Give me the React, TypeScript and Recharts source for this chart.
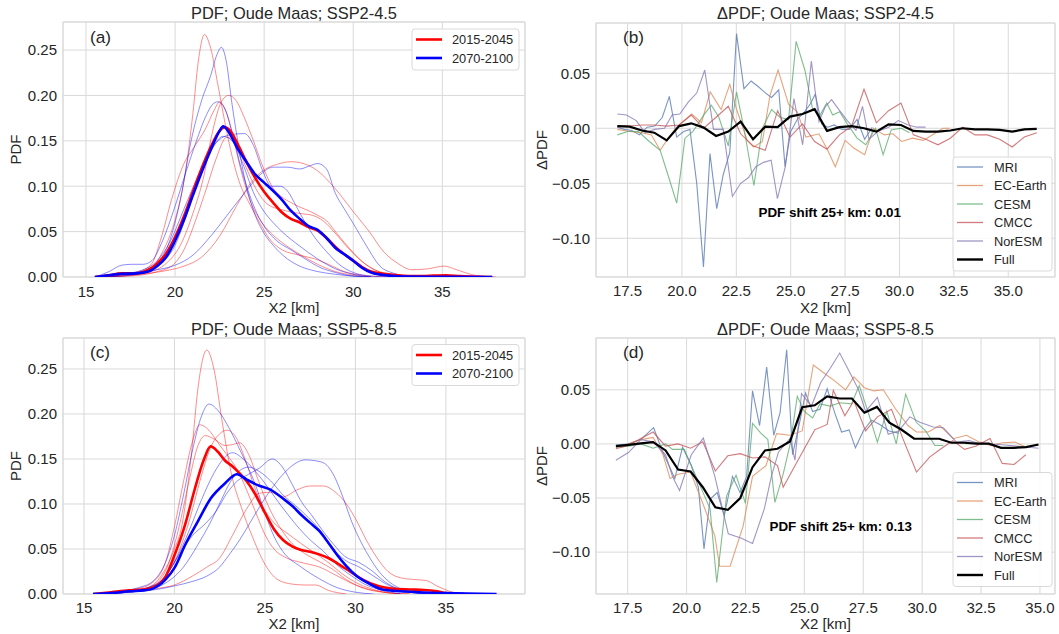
import React from 'react';
import { CartesianGrid, Line, LineChart, ReferenceArea, XAxis, YAxis } from 'recharts';

type Pt = [number, number];

const FONT = '"Liberation Sans", Arial, Helvetica, sans-serif';
const INK = '#262626';
const GRID = '#d9d9d9';

const PERIODS = ['2015-2045', '2070-2100'];
const MODELS = ['MRI', 'EC-Earth', 'CESM', 'CMCC', 'NorESM'];
const MODEL_COLORS = ['#4c72b0', '#dd8452', '#55a868', '#c44e52', '#8172b3'];

const PDF_X_TICKS = [15, 20, 25, 30, 35];
const PDF_Y_TICKS = [0, 0.05, 0.1, 0.15, 0.2, 0.25];
const DELTA_X_TICKS = [17.5, 20, 22.5, 25, 27.5, 30, 32.5, 35];
const DELTA_Y_TICKS = [-0.1, -0.05, 0, 0.05];

// ---- SSP2-4.5 PDFs (km, density) ----
const RED_245: Pt[][] = [
  [[16, 0], [17, 0.002], [18, 0.004], [18.6, 0.008], [19.25, 0.026], [19.7, 0.045], [20, 0.063], [20.6, 0.118], [21, 0.18], [21.3, 0.237], [21.65, 0.267], [22, 0.252], [22.4, 0.212], [22.8, 0.17], [23.2, 0.133], [23.6, 0.105], [24.2, 0.08], [24.8, 0.058], [25.3, 0.042], [26, 0.03], [27, 0.024], [28, 0.019], [28.6, 0.014], [29.5, 0.006], [30.5, 0.002], [32, 0]],
  [[16, 0], [17.5, 0.002], [18.5, 0.005], [19.5, 0.015], [20.3, 0.035], [21, 0.07], [21.6, 0.11], [22.1, 0.16], [22.6, 0.193], [23, 0.2], [23.4, 0.195], [23.9, 0.175], [24.4, 0.15], [25, 0.118], [25.5, 0.098], [26, 0.088], [26.5, 0.082], [27, 0.077], [27.5, 0.073], [28, 0.068], [28.5, 0.062], [29, 0.05], [29.5, 0.038], [30, 0.027], [30.5, 0.017], [31, 0.01], [32, 0.003], [33, 0.0005], [34, 0]],
  [[15.8, 0], [17, 0.003], [18, 0.006], [18.7, 0.015], [19.25, 0.045], [19.8, 0.085], [20.5, 0.125], [21.1, 0.144], [21.7, 0.163], [22.2, 0.184], [22.5, 0.193], [22.9, 0.18], [23.3, 0.15], [23.8, 0.11], [24.3, 0.08], [24.8, 0.062], [25.3, 0.05], [26, 0.038], [27, 0.025], [28, 0.014], [29, 0.006], [30, 0.002], [31, 0]],
  [[16, 0], [17.5, 0.002], [18.5, 0.004], [19.5, 0.007], [20.5, 0.012], [21.5, 0.022], [22.5, 0.045], [23.5, 0.08], [24.3, 0.105], [25, 0.118], [25.7, 0.124], [26.5, 0.127], [27.2, 0.125], [28, 0.117], [29, 0.097], [30, 0.072], [30.9, 0.05], [31.7, 0.028], [32.5, 0.015], [33.3, 0.008], [34.2, 0.009], [35.1, 0.012], [35.8, 0.008], [36.8, 0.002], [38, 0]],
  [[16, 0], [18, 0.002], [19, 0.006], [19.8, 0.012], [20.5, 0.03], [21.2, 0.065], [21.8, 0.1], [22.3, 0.13], [22.9, 0.154], [23.4, 0.148], [24, 0.12], [24.6, 0.095], [25.2, 0.08], [26, 0.074], [27, 0.07], [27.7, 0.068], [28.3, 0.062], [29, 0.048], [29.8, 0.03], [30.5, 0.017], [31.3, 0.007], [32.3, 0.002], [33.5, 0]],
];
const BLUE_245: Pt[][] = [
  [[16, 0], [17, 0.002], [18, 0.005], [19, 0.015], [19.7, 0.04], [20.3, 0.085], [20.9, 0.15], [21.5, 0.195], [22, 0.222], [22.35, 0.245], [22.6, 0.253], [22.85, 0.24], [23.2, 0.19], [23.6, 0.14], [24, 0.1], [24.5, 0.068], [25, 0.048], [25.5, 0.035], [26.3, 0.02], [27, 0.012], [28, 0.006], [29, 0.003], [30, 0.001], [31, 0]],
  [[15.5, 0], [16.3, 0.006], [17, 0.013], [17.6, 0.014], [18.2, 0.014], [18.7, 0.018], [19.3, 0.04], [20, 0.078], [20.6, 0.115], [21.2, 0.15], [21.7, 0.176], [22.1, 0.19], [22.4, 0.193], [22.8, 0.185], [23.2, 0.16], [23.6, 0.128], [24.1, 0.095], [24.6, 0.07], [25.1, 0.053], [25.7, 0.04], [26.5, 0.03], [27.3, 0.02], [28.2, 0.01], [29, 0.005], [30, 0.001], [31, 0]],
  [[16, 0], [17, 0.003], [18.2, 0.008], [19, 0.018], [19.7, 0.038], [20.5, 0.075], [21.3, 0.112], [22, 0.14], [22.6, 0.153], [23.2, 0.157], [23.9, 0.158], [24.4, 0.145], [24.9, 0.118], [25.4, 0.1], [25.9, 0.1], [26.3, 0.095], [26.8, 0.078], [27.3, 0.06], [27.9, 0.042], [28.5, 0.028], [29.2, 0.014], [30, 0.005], [31, 0.001], [32, 0]],
  [[15.8, 0], [17, 0.003], [18, 0.005], [19, 0.008], [20, 0.013], [21, 0.024], [22, 0.045], [23, 0.07], [24, 0.095], [24.8, 0.113], [25.5, 0.121], [26.3, 0.121], [27, 0.119], [27.5, 0.122], [28, 0.125], [28.5, 0.119], [29, 0.092], [29.5, 0.075], [30, 0.059], [30.75, 0.034], [31.5, 0.012], [32.3, 0.004], [33.5, 0]],
  [[16, 0], [17.5, 0.002], [18.7, 0.008], [19.5, 0.02], [20, 0.035], [20.5, 0.06], [21, 0.09], [21.5, 0.115], [22, 0.138], [22.7, 0.155], [23.2, 0.15], [23.8, 0.125], [24.4, 0.093], [25, 0.072], [25.5, 0.06], [26, 0.05], [27, 0.034], [28, 0.02], [29, 0.009], [30, 0.003], [31, 0]],
];
const RED_245_MEAN: Pt[] = [[15.5, 0], [16.3, 0.002], [17, 0.004], [17.8, 0.004], [18.5, 0.008], [19, 0.015], [19.5, 0.026], [20, 0.044], [20.5, 0.067], [21, 0.094], [21.5, 0.12], [22, 0.143], [22.5, 0.161], [22.8, 0.165], [23.1, 0.161], [23.5, 0.147], [24, 0.127], [24.5, 0.109], [25, 0.094], [25.5, 0.082], [26, 0.071], [26.5, 0.064], [27, 0.06], [27.5, 0.055], [28, 0.051], [28.5, 0.043], [29, 0.033], [29.5, 0.025], [30, 0.018], [30.5, 0.011], [31, 0.006], [31.5, 0.004], [32.5, 0.002], [33.5, 0.001], [34.5, 0.0015], [35.2, 0.002], [36, 0.001], [37, 0.0002], [37.8, 0]];
const BLUE_245_MEAN: Pt[] = [[15.5, 0], [16.3, 0.002], [17, 0.0035], [17.8, 0.004], [18.5, 0.006], [19, 0.012], [19.5, 0.022], [20, 0.04], [20.5, 0.063], [21, 0.09], [21.5, 0.116], [22, 0.14], [22.5, 0.161], [22.7, 0.166], [23, 0.16], [23.5, 0.142], [24, 0.127], [24.5, 0.113], [25, 0.104], [25.5, 0.095], [26, 0.085], [26.5, 0.073], [27, 0.064], [27.5, 0.056], [28, 0.052], [28.5, 0.043], [29, 0.032], [29.5, 0.025], [30, 0.018], [30.5, 0.01], [31, 0.005], [32, 0.0015], [33, 0.0005], [35, 0.0003], [37.8, 0]];

// ---- SSP5-8.5 PDFs ----
const RED_585: Pt[][] = [
  [[16, 0], [17, 0.002], [18, 0.004], [18.8, 0.01], [19.5, 0.028], [20, 0.05], [20.4, 0.075], [20.95, 0.158], [21.3, 0.229], [21.78, 0.271], [22.2, 0.248], [22.6, 0.196], [23.15, 0.133], [23.7, 0.096], [24.3, 0.064], [25, 0.033], [25.7, 0.016], [26.5, 0.011], [27.2, 0.01], [27.8, 0.01], [28.5, 0.004], [29.5, 0]],
  [[16, 0], [17, 0.003], [18, 0.006], [18.8, 0.013], [19.5, 0.035], [20, 0.075], [20.5, 0.125], [21, 0.17], [21.4, 0.188], [21.9, 0.182], [22.4, 0.168], [23, 0.152], [23.5, 0.137], [24, 0.115], [24.5, 0.09], [25, 0.066], [25.5, 0.05], [26.2, 0.04], [27, 0.035], [28, 0.03], [29, 0.02], [30, 0.01], [31, 0.004], [32, 0.001], [33, 0]],
  [[16, 0], [17.2, 0.003], [18.3, 0.006], [19, 0.012], [19.6, 0.03], [20.2, 0.07], [20.8, 0.125], [21.3, 0.165], [21.7, 0.176], [22.2, 0.172], [22.8, 0.165], [23.2, 0.166], [23.6, 0.168], [24.1, 0.155], [24.6, 0.128], [25.2, 0.097], [25.8, 0.075], [26.5, 0.056], [27.2, 0.045], [28, 0.036], [28.7, 0.028], [29.5, 0.016], [30.5, 0.006], [31.5, 0.002], [32.5, 0]],
  [[16, 0], [17.5, 0.003], [18.7, 0.007], [19.5, 0.02], [20.2, 0.045], [20.8, 0.08], [21.4, 0.125], [22, 0.163], [22.5, 0.178], [22.9, 0.182], [23.4, 0.174], [23.9, 0.15], [24.4, 0.12], [25, 0.093], [25.6, 0.077], [26.2, 0.068], [27, 0.056], [27.8, 0.045], [28.5, 0.035], [29.3, 0.022], [30.2, 0.011], [31, 0.005], [32, 0.001], [33, 0]],
  [[16, 0], [17.5, 0.002], [19, 0.006], [20, 0.01], [21, 0.02], [21.8, 0.03], [22.5, 0.04], [23.2, 0.065], [24, 0.095], [24.7, 0.112], [25.3, 0.113], [26, 0.108], [26.8, 0.116], [27.5, 0.12], [28.2, 0.12], [28.9, 0.113], [29.5, 0.1], [30.1, 0.08], [30.6, 0.06], [31.2, 0.04], [31.8, 0.025], [32.5, 0.018], [33.3, 0.016], [33.9, 0.015], [34.5, 0.009], [35.2, 0.003], [36, 0]],
];
const BLUE_585: Pt[][] = [
  [[16, 0], [17, 0.003], [18, 0.007], [18.8, 0.014], [19.5, 0.035], [20, 0.065], [20.5, 0.11], [21, 0.16], [21.5, 0.198], [21.9, 0.211], [22.4, 0.204], [23, 0.185], [23.5, 0.165], [23.9, 0.148], [24.5, 0.12], [25, 0.09], [25.5, 0.064], [26, 0.047], [27, 0.03], [28, 0.017], [29, 0.007], [30, 0.002], [31, 0]],
  [[16, 0], [17.5, 0.003], [18.5, 0.007], [19.3, 0.015], [20, 0.035], [20.8, 0.07], [21.5, 0.105], [22.2, 0.135], [22.7, 0.15], [23.2, 0.157], [23.8, 0.15], [24.4, 0.138], [25, 0.123], [25.6, 0.106], [26.2, 0.09], [26.8, 0.075], [27.5, 0.06], [28.2, 0.048], [29, 0.032], [29.8, 0.02], [30.5, 0.011], [31.5, 0.004], [32.5, 0]],
  [[16, 0], [17.5, 0.002], [18.5, 0.005], [19.5, 0.012], [20.5, 0.03], [21.3, 0.055], [22, 0.08], [22.6, 0.105], [23.1, 0.125], [23.6, 0.137], [24.1, 0.141], [24.7, 0.136], [25.3, 0.126], [26, 0.11], [26.7, 0.098], [27.4, 0.085], [28, 0.072], [28.7, 0.052], [29.4, 0.038], [30.2, 0.03], [31, 0.02], [31.8, 0.01], [32.7, 0.004], [34, 0]],
  [[16, 0], [17.5, 0.003], [18.6, 0.007], [19.5, 0.02], [20.3, 0.045], [21, 0.065], [21.7, 0.078], [22.3, 0.092], [22.9, 0.112], [23.5, 0.126], [24.1, 0.133], [24.7, 0.14], [25.4, 0.15], [26, 0.14], [26.5, 0.122], [27, 0.103], [27.6, 0.087], [28.2, 0.07], [28.8, 0.055], [29.4, 0.042], [30.2, 0.035], [30.9, 0.026], [31.6, 0.014], [32.3, 0.006], [33.3, 0.001], [34, 0]],
  [[16, 0], [17.5, 0.002], [19, 0.005], [20, 0.009], [21, 0.014], [21.8, 0.02], [22.5, 0.03], [23, 0.043], [23.6, 0.06], [24.2, 0.08], [24.8, 0.1], [25.4, 0.118], [26, 0.133], [26.6, 0.144], [27.2, 0.149], [27.8, 0.148], [28.3, 0.145], [28.8, 0.132], [29.3, 0.108], [29.8, 0.08], [30.3, 0.058], [30.8, 0.04], [31.3, 0.025], [31.9, 0.013], [32.6, 0.005], [33.5, 0.001], [34.5, 0]],
];
const RED_585_MEAN: Pt[] = [[15.5, 0], [16.5, 0.002], [17.5, 0.004], [18.3, 0.005], [18.9, 0.008], [19.5, 0.019], [20, 0.043], [20.6, 0.078], [21.1, 0.115], [21.6, 0.148], [22, 0.164], [22.4, 0.158], [22.8, 0.148], [23.2, 0.142], [23.6, 0.134], [24, 0.125], [24.4, 0.113], [25, 0.09], [25.5, 0.072], [26, 0.06], [26.5, 0.053], [27, 0.049], [27.5, 0.047], [28, 0.044], [28.5, 0.04], [29, 0.034], [29.7, 0.025], [30.4, 0.016], [31.3, 0.0085], [32, 0.006], [33, 0.005], [33.8, 0.0045], [34.5, 0.003], [35, 0.001], [36, 0]];
const BLUE_585_MEAN: Pt[] = [[15.5, 0], [16.5, 0.001], [17.5, 0.003], [18.3, 0.004], [18.8, 0.006], [19.5, 0.016], [20, 0.029], [20.6, 0.055], [21.3, 0.081], [22, 0.106], [22.8, 0.123], [23.45, 0.133], [24, 0.127], [24.6, 0.121], [25.3, 0.116], [26, 0.106], [26.5, 0.098], [27, 0.088], [27.5, 0.079], [28, 0.07], [28.5, 0.057], [29, 0.043], [29.5, 0.031], [30, 0.021], [30.8, 0.011], [31.5, 0.005], [32.5, 0.003], [33.5, 0.002], [35, 0.001], [37.8, 0]];

// ---- SSP2-4.5 PDF differences ----
const FULL_245_X = [17.03, 17.6, 18.16, 18.73, 19.3, 19.87, 20.43, 21.0, 21.57, 22.13, 22.7, 23.27, 23.83, 24.4, 24.97, 25.54, 26.1, 26.67, 27.24, 27.8, 28.37, 28.94, 29.5, 30.07, 30.64, 31.21, 31.77, 32.34, 32.91, 33.47, 34.04, 34.61, 35.18, 35.74, 36.31];
const FULL_245 = [0.002, 0.0015, -0.002, -0.004, -0.011, 0.002, 0.0045, 0.0006, -0.007, -0.003, 0.006, -0.01, 0.0015, 0.001, 0.0106, 0.013, 0.0173, -0.0024, 0.001, 0.002, 0.0, -0.003, 0.0036, 0.003, -0.0024, -0.003, -0.003, -0.002, 0.0, -0.001, -0.001, -0.0015, -0.003, -0.001, -0.0005];
const MRI_245: Pt[] = [[17.03, 0.001], [17.35, -0.001], [17.7, -0.002], [18.05, -0.006], [18.4, 0.001], [18.75, 0.002], [19.1, 0.01], [19.42, 0.029], [19.76, -0.008], [20.08, -0.003], [20.37, -0.001], [20.68, -0.05], [20.99, -0.126], [21.29, -0.023], [21.6, -0.073], [21.9, -0.042], [22.2, -0.022], [22.51, 0.086], [22.85, 0.036], [23.18, 0.043], [23.5, 0.038], [23.85, 0.032], [24.12, 0.028], [24.45, 0.035], [24.74, -0.035], [25.0, -0.003], [25.3, 0.008], [25.6, 0.014], [25.9, 0.022], [26.13, 0.031], [26.42, 0.004], [26.7, 0.001], [27.0, 0.003], [27.35, -0.001], [27.7, -0.001], [28.05, 0.008], [28.4, -0.01], [28.75, 0.001]];
const EC_245: Pt[] = [[17.03, -0.001], [17.6, -0.003], [18.16, -0.004], [18.6, -0.006], [19.0, -0.02], [19.4, -0.008], [19.8, 0.002], [20.45, 0.013], [20.9, 0.005], [21.3, 0.033], [21.8, 0.017], [22.2, 0.04], [22.5, 0.018], [23.0, -0.011], [23.3, -0.017], [23.7, -0.012], [24.05, 0.03], [24.42, 0.053], [24.9, 0.022], [25.3, 0.015], [25.7, -0.008], [26.3, -0.005], [26.7, -0.02], [27.05, -0.035], [27.5, -0.011], [27.9, -0.018], [28.4, -0.024], [28.8, 0.0], [29.3, -0.006], [29.7, -0.005], [30.1, -0.012], [30.6, -0.009], [31.1, -0.011], [31.6, -0.005], [32.0, 0.0], [32.3, 0.0]];
const CESM_245: Pt[] = [[17.03, -0.006], [17.5, -0.003], [18.0, -0.003], [18.5, -0.012], [19.0, -0.02], [19.4, -0.045], [19.76, -0.068], [20.14, -0.009], [20.5, -0.003], [21.0, 0.012], [21.35, 0.021], [21.7, 0.01], [22.13, -0.016], [22.51, 0.033], [22.85, 0.0], [23.31, -0.052], [23.7, 0.0], [24.12, 0.017], [24.5, 0.01], [24.9, 0.008], [25.25, 0.079], [25.65, 0.053], [26.0, 0.018], [26.35, 0.012], [26.66, 0.023], [26.93, 0.012], [27.25, 0.015], [27.6, 0.004], [28.05, -0.009], [28.45, -0.015], [28.9, 0.0], [29.25, -0.024], [29.62, -0.0015], [30.08, 0.0], [30.46, -0.004]];
const CMCC_245: Pt[] = [[17.03, 0.002], [17.6, 0.002], [18.16, 0.003], [18.73, 0.003], [19.3, 0.002], [19.87, 0.003], [20.43, 0.012], [21.0, 0.0], [21.57, 0.01], [22.13, 0.02], [22.7, -0.005], [23.27, -0.016], [23.83, -0.02], [24.4, 0.016], [24.97, -0.008], [25.54, 0.004], [26.1, -0.012], [26.67, -0.019], [27.24, -0.006], [27.8, 0.002], [28.37, 0.0355], [28.94, 0.005], [29.5, 0.016], [30.07, 0.023], [30.64, -0.006], [31.21, -0.01], [31.77, -0.015], [32.34, -0.009], [32.91, 0.001], [33.47, -0.006], [34.04, -0.006], [34.61, -0.01], [35.18, -0.017], [35.74, -0.008], [36.31, -0.004]];
const NORESM_245: Pt[] = [[17.03, 0.013], [17.45, 0.012], [17.9, 0.007], [18.3, -0.004], [18.75, -0.001], [19.2, 0.0], [19.55, 0.012], [19.9, 0.013], [20.3, 0.024], [20.68, 0.032], [21.05, 0.053], [21.45, -0.001], [21.9, -0.001], [22.32, -0.062], [22.7, -0.05], [23.05, -0.045], [23.4, -0.035], [23.75, -0.031], [24.1, -0.029], [24.39, -0.064], [24.75, -0.035], [25.15, 0.027], [25.55, -0.015], [25.95, 0.061], [26.3, 0.006], [26.6, 0.02], [26.88, 0.026], [27.25, 0.016], [27.6, 0.007], [28.0, -0.002], [28.3, 0.02], [28.6, -0.01], [29.0, -0.003], [29.5, 0.001], [29.95, 0.007], [30.4, 0.003], [30.8, 0.001], [31.2, 0.001]];

// ---- SSP5-8.5 PDF differences ----
const FULL_585_X = [17.0, 17.53, 18.06, 18.58, 19.11, 19.64, 20.17, 20.69, 21.22, 21.75, 22.28, 22.8, 23.33, 23.86, 24.39, 24.91, 25.44, 25.97, 26.5, 27.02, 27.55, 28.08, 28.61, 29.13, 29.66, 30.19, 30.72, 31.24, 31.77, 32.3, 32.83, 33.35, 33.88, 34.41, 34.94];
const FULL_585 = [-0.002, -0.0008, 0.0005, 0.0017, -0.006, -0.0237, -0.0255, -0.04, -0.0586, -0.061, -0.05, -0.0215, -0.006, -0.0045, 0.0023, 0.034, 0.0357, 0.044, 0.042, 0.042, 0.0289, 0.0342, 0.0196, 0.0131, 0.0048, 0.0048, 0.0048, 0.0011, 0.0011, 0.0002, 0.0002, -0.0036, -0.0036, -0.003, -0.0005];
const MRI_585: Pt[] = [[17.0, -0.001], [17.5, 0.0], [18.05, 0.004], [18.6, 0.015], [19.0, -0.008], [19.5, -0.032], [19.83, -0.003], [20.2, -0.02], [20.5, -0.04], [20.74, -0.097], [21.0, -0.051], [21.3, -0.045], [21.6, -0.066], [21.95, -0.03], [22.27, -0.045], [22.55, -0.03], [22.8, 0.049], [23.1, 0.017], [23.4, 0.071], [23.7, 0.008], [23.97, 0.029], [24.25, 0.087], [24.5, -0.01], [24.8, 0.02], [25.05, 0.047], [25.35, 0.03], [25.66, 0.032], [25.97, 0.051], [26.3, 0.028], [26.58, 0.011], [26.9, 0.013], [27.17, -0.0036], [27.5, 0.012], [27.85, 0.022], [28.2, 0.018], [28.6, 0.012], [29.0, 0.01]];
const EC_585: Pt[] = [[17.0, -0.003], [17.53, 0.0], [18.06, 0.004], [18.58, 0.006], [19.0, -0.01], [19.3, -0.032], [19.64, -0.028], [20.17, -0.026], [20.69, -0.055], [21.2, -0.085], [21.4, -0.113], [21.85, -0.113], [22.4, -0.076], [22.8, -0.03], [23.37, -0.02], [23.82, 0.0095], [24.39, 0.008], [24.91, 0.012], [25.38, 0.073], [25.8, 0.066], [26.3, 0.058], [26.75, 0.05], [27.1, 0.062], [27.55, 0.052], [27.95, 0.049], [28.35, 0.05], [28.85, 0.033], [29.4, 0.017], [29.76, 0.011], [30.26, 0.011], [30.75, 0.017], [31.32, 0.0048], [31.88, 0.008], [32.4, 0.002], [32.9, -0.0014], [33.41, 0.0011], [33.94, 0.0017], [34.43, -0.003]];
const CESM_585: Pt[] = [[17.0, -0.003], [17.53, -0.002], [18.06, 0.0], [18.58, -0.004], [19.11, 0.0], [19.4, -0.005], [19.9, -0.005], [20.3, -0.025], [20.7, -0.045], [21.0, -0.06], [21.28, -0.128], [21.7, -0.048], [22.1, -0.029], [22.5, -0.055], [22.8, 0.019], [23.15, 0.01], [23.45, 0.004], [23.75, -0.054], [24.1, -0.028], [24.4, 0.0], [24.7, 0.044], [25.0, 0.03], [25.35, 0.024], [25.66, 0.037], [26.1, 0.035], [26.5, 0.038], [27.0, 0.037], [27.33, 0.054], [27.7, 0.03], [28.1, 0.0017], [28.5, 0.03], [28.9, 0.0], [29.3, 0.046], [29.75, 0.02], [30.15, 0.012], [30.54, -0.0015], [30.9, -0.0015]];
const CMCC_585: Pt[] = [[17.0, -0.0045], [17.53, -0.0015], [18.06, 0.005], [18.58, 0.011], [19.11, -0.002], [19.64, 0.0], [20.17, -0.004], [20.69, 0.002], [21.22, -0.025], [21.75, -0.011], [22.28, -0.009], [22.8, -0.013], [23.33, -0.012], [23.86, -0.02], [24.1, -0.04], [24.91, -0.008], [25.44, 0.013], [25.97, 0.018], [26.23, 0.0496], [26.72, 0.026], [27.1, 0.04], [27.6, 0.012], [28.1, 0.025], [28.7, 0.032], [29.2, 0.004], [29.76, -0.026], [30.33, -0.012], [30.8, -0.0045], [31.3, 0.003], [31.8, -0.005], [32.3, -0.002], [32.88, 0.005], [33.4, -0.018], [33.9, -0.019], [34.4, -0.01]];
const NORESM_585: Pt[] = [[17.0, -0.015], [17.53, -0.008], [18.06, 0.004], [18.58, 0.002], [19.11, -0.01], [19.4, -0.03], [19.7, -0.043], [20.2, -0.01], [20.71, 0.0054], [21.2, -0.03], [21.77, -0.083], [22.3, -0.087], [22.8, -0.092], [23.3, -0.06], [23.6, -0.03], [23.9, -0.0076], [24.39, 0.005], [24.6, -0.015], [24.88, 0.0465], [25.3, 0.035], [25.7, 0.057], [26.1, 0.07], [26.5, 0.084], [27.0, 0.063], [27.3, 0.05], [27.6, 0.03], [28.1, 0.043], [28.56, 0.009], [29.0, 0.012], [29.48, 0.025], [29.9, 0.02], [30.47, 0.0156], [30.9, 0.015], [31.46, 0.0017], [32.0, 0.003], [32.5, 0.0], [33.0, 0.0], [33.5, -0.001], [34.0, -0.002], [34.5, -0.003], [34.94, -0.004]];

const SHIFT_245 = 0.01;
const SHIFT_585 = 0.13;

const rows = (pts: Pt[]) => pts.map(([x, y]) => ({ x, y }));
const zipRows = (xs: number[], ys: number[]) => xs.map((x, i) => ({ x, y: ys[i] }));
const fmtSigned = (v: number) => (v < 0 ? '\u2212' : '') + Math.abs(v).toFixed(2);

const tickStyle = { fontSize: 15, fill: INK, fontFamily: FONT };

interface PdfProps {
  top: number;
  plotTop: number;
  xTickGap: number;
  xDomain: [number, number];
  yDomain: [number, number];
  red: Pt[][];
  blue: Pt[][];
  redMean: Pt[];
  blueMean: Pt[];
}

function PdfPanel({ top, plotTop, xTickGap, xDomain, yDomain, red, blue, redMean, blueMean }: PdfProps) {
  return (
    <div style={{ position: 'absolute', left: 0, top }}>
      <LineChart width={530} height={317} margin={{ top: plotTop, right: 5, bottom: 0, left: 0 }}>
        <CartesianGrid stroke={GRID} />
        <XAxis type="number" dataKey="x" domain={xDomain} allowDataOverflow ticks={PDF_X_TICKS} interval={0}
          height={40} axisLine={false} tickLine={false} tickSize={0} tickMargin={xTickGap} tick={tickStyle} />
        <YAxis type="number" dataKey="y" domain={yDomain} allowDataOverflow ticks={PDF_Y_TICKS} interval={0}
          width={63} axisLine={false} tickLine={false} tickSize={0} tickMargin={6} tick={tickStyle}
          tickFormatter={(v: number) => v.toFixed(2)} />
        <ReferenceArea x1={xDomain[0]} x2={xDomain[1]} y1={yDomain[0]} y2={yDomain[1]} fill="none"
          stroke={GRID} strokeWidth={1} ifOverflow="visible" />
        {red.map((pts, i) => (
          <Line key={`r${i}`} data={rows(pts)} dataKey="y" type="monotone" stroke="#ff0000" strokeOpacity={0.45}
            strokeWidth={1} dot={false} activeDot={false} isAnimationActive={false} />
        ))}
        {blue.map((pts, i) => (
          <Line key={`b${i}`} data={rows(pts)} dataKey="y" type="monotone" stroke="#0000ff" strokeOpacity={0.45}
            strokeWidth={1} dot={false} activeDot={false} isAnimationActive={false} />
        ))}
        <Line data={rows(redMean)} dataKey="y" type="monotone" stroke="#ff0000" strokeWidth={2.6}
          dot={false} activeDot={false} isAnimationActive={false} />
        <Line data={rows(blueMean)} dataKey="y" type="monotone" stroke="#0000ff" strokeWidth={2.6}
          dot={false} activeDot={false} isAnimationActive={false} />
      </LineChart>
    </div>
  );
}

interface DeltaProps {
  top: number;
  plotTop: number;
  xTickGap: number;
  xDomain: [number, number];
  yDomain: [number, number];
  models: Pt[][];
  fullX: number[];
  full: number[];
}

function DeltaPanel({ top, plotTop, xTickGap, xDomain, yDomain, models, fullX, full }: DeltaProps) {
  return (
    <div style={{ position: 'absolute', left: 530, top }}>
      <LineChart width={529} height={317} margin={{ top: plotTop, right: 4, bottom: 0, left: 0 }}>
        <CartesianGrid stroke={GRID} />
        <XAxis type="number" dataKey="x" domain={xDomain} allowDataOverflow ticks={DELTA_X_TICKS} interval={0}
          height={40} axisLine={false} tickLine={false} tickSize={0} tickMargin={xTickGap} tick={tickStyle}
          tickFormatter={(v: number) => v.toFixed(1)} />
        <YAxis type="number" dataKey="y" domain={yDomain} allowDataOverflow ticks={DELTA_Y_TICKS} interval={0}
          width={66} axisLine={false} tickLine={false} tickSize={0} tickMargin={6} tick={tickStyle}
          tickFormatter={fmtSigned} />
        <ReferenceArea x1={xDomain[0]} x2={xDomain[1]} y1={yDomain[0]} y2={yDomain[1]} fill="none"
          stroke={GRID} strokeWidth={1} ifOverflow="visible" />
        {models.map((pts, i) => (
          <Line key={MODELS[i]} data={rows(pts)} dataKey="y" type="linear" stroke={MODEL_COLORS[i]}
            strokeOpacity={0.75} strokeWidth={1.1} dot={false} activeDot={false} isAnimationActive={false} />
        ))}
        <Line data={zipRows(fullX, full)} dataKey="y" type="linear" stroke="#000000" strokeWidth={2.2}
          dot={false} activeDot={false} isAnimationActive={false} />
      </LineChart>
    </div>
  );
}

function PeriodLegend({ y }: { y: number }) {
  const colors = ['#ff0000', '#0000ff'];
  return (
    <g>
      <rect x={412} y={y} width={107} height={41} rx={3} fill="#ffffff" fillOpacity={0.85} stroke={GRID} />
      {PERIODS.map((p, i) => {
        const cy = y + 10.5 + i * 18.5;
        return (
          <g key={p}>
            <line x1={416} x2={442} y1={cy} y2={cy} stroke={colors[i]} strokeWidth={2.6} />
            <text x={452} y={cy + 4.6} fontSize={12.8} fill={INK}>{p}</text>
          </g>
        );
      })}
    </g>
  );
}

function ModelLegend({ y }: { y: number }) {
  const names = [...MODELS, 'Full'];
  return (
    <g>
      <rect x={953} y={y} width={99} height={114} rx={3} fill="#ffffff" fillOpacity={0.85} stroke={GRID} />
      {names.map((n, i) => {
        const cy = y + 10 + i * 18.5;
        const full = n === 'Full';
        return (
          <g key={n}>
            <line x1={957} x2={983} y1={cy} y2={cy} stroke={full ? '#000000' : MODEL_COLORS[i]}
              strokeOpacity={full ? 1 : 0.75} strokeWidth={full ? 2.4 : 1.3} />
            <text x={994} y={cy + 4.6} fontSize={12.8} fill={INK}>{n}</text>
          </g>
        );
      })}
    </g>
  );
}

export default function App() {
  return (
    <div style={{ position: 'fixed', left: 0, top: 0, width: 1059, height: 634, background: '#ffffff', fontFamily: FONT }}>
      <PdfPanel top={0} plotTop={22} xTickGap={9} xDomain={[13.71, 39.64]} yDomain={[0, 0.2809]}
        red={RED_245} blue={BLUE_245} redMean={RED_245_MEAN} blueMean={BLUE_245_MEAN} />
      <DeltaPanel top={0} plotTop={23} xTickGap={8} xDomain={[16.05, 37.15]} yDomain={[-0.1352, 0.0957]}
        models={[MRI_245, EC_245, CESM_245, CMCC_245, NORESM_245]} fullX={FULL_245_X} full={FULL_245} />
      <PdfPanel top={317} plotTop={21} xTickGap={8} xDomain={[13.84, 39.37]} yDomain={[0, 0.2844]}
        red={RED_585} blue={BLUE_585} redMean={RED_585_MEAN} blueMean={BLUE_585_MEAN} />
      <DeltaPanel top={317} plotTop={21} xTickGap={8} xDomain={[16.155, 35.64]} yDomain={[-0.1387, 0.0979]}
        models={[MRI_585, EC_585, CESM_585, CMCC_585, NORESM_585]} fullX={FULL_585_X} full={FULL_585} />

      <svg width={1059} height={634} style={{ position: 'absolute', left: 0, top: 0, pointerEvents: 'none' }}
        fontFamily={FONT}>
        {/* titles */}
        <text x={294} y={18.8} fontSize={16.4} fill={INK} textAnchor="middle">PDF; Oude Maas; SSP2-4.5</text>
        <text x={825.5} y={18.8} fontSize={16.4} fill={INK} textAnchor="middle">ΔPDF; Oude Maas; SSP2-4.5</text>
        <text x={294} y={335} fontSize={16.4} fill={INK} textAnchor="middle">PDF; Oude Maas; SSP5-8.5</text>
        <text x={825.5} y={335} fontSize={16.4} fill={INK} textAnchor="middle">ΔPDF; Oude Maas; SSP5-8.5</text>

        {/* axis labels */}
        <text x={294} y={312.5} fontSize={15} fill={INK} textAnchor="middle">X2 [km]</text>
        <text x={825.5} y={312.5} fontSize={15} fill={INK} textAnchor="middle">X2 [km]</text>
        <text x={294} y={628.5} fontSize={15} fill={INK} textAnchor="middle">X2 [km]</text>
        <text x={825.5} y={628.5} fontSize={15} fill={INK} textAnchor="middle">X2 [km]</text>
        <text transform="translate(21.4,149.5) rotate(-90)" fontSize={15} fill={INK} textAnchor="middle">PDF</text>
        <text transform="translate(21.4,466) rotate(-90)" fontSize={15} fill={INK} textAnchor="middle">PDF</text>
        <text transform="translate(547,150) rotate(-90)" fontSize={15} fill={INK} textAnchor="middle">ΔPDF</text>
        <text transform="translate(547,466) rotate(-90)" fontSize={15} fill={INK} textAnchor="middle">ΔPDF</text>

        {/* panel letters */}
        <text x={90} y={43} fontSize={17.2} fill={INK}>(a)</text>
        <text x={623} y={43} fontSize={17.2} fill={INK}>(b)</text>
        <text x={90} y={358} fontSize={17.2} fill={INK}>(c)</text>
        <text x={623} y={358} fontSize={17.2} fill={INK}>(d)</text>

        {/* shift annotations */}
        <text x={758.5} y={217} fontSize={13.4} fontWeight="bold" fill="#000000">{`PDF shift 25+ km: ${SHIFT_245.toFixed(2)}`}</text>
        <text x={769.5} y={530.5} fontSize={13.4} fontWeight="bold" fill="#000000">{`PDF shift 25+ km: ${SHIFT_585.toFixed(2)}`}</text>

        <PeriodLegend y={29} />
        <PeriodLegend y={344.5} />
        <ModelLegend y={157} />
        <ModelLegend y={472.5} />
      </svg>
    </div>
  );
}
